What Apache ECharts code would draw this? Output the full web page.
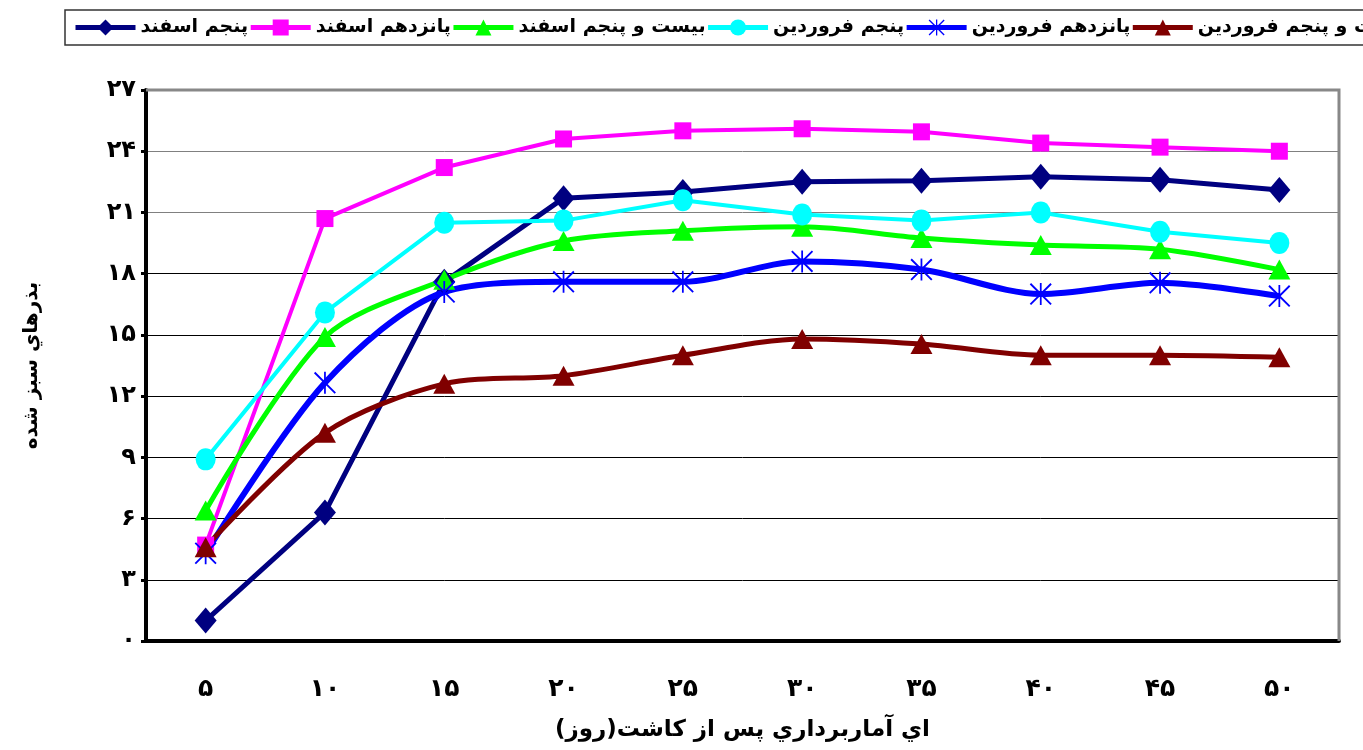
<!DOCTYPE html>
<html>
<head>
<meta charset="utf-8">
<script src="https://cdn.jsdelivr.net/npm/echarts@6/dist/echarts.min.js"></script>
<style>
  html, body { margin: 0; padding: 0; background: #fff; }
  #chart { width: 1363px; height: 750px; }
</style>
</head>
<body>
<div id="chart"></div>
<script>
	var xLabels = ['۵','۱۰','۱۵','۲۰','۲۵','۳۰','۳۵','۴۰','۴۵','۵۰'];
	var yTickLabels = ['۰','۳','۶','۹','۱۲','۱۵','۱۸','۲۱','۲۴','۲۷'];
	var names = ['پنجم اسفند','پانزدهم اسفند','بيست و پنجم اسفند','پنجم فروردين','پانزدهم فروردين','بيست و پنجم فروردين'];

	var esfand5   = [1.0, 6.3, 17.6, 21.7, 22.0, 22.5, 22.55, 22.75, 22.6, 22.1];
	var esfand15  = [4.7, 20.7, 23.2, 24.6, 25.0, 25.1, 24.95, 24.4, 24.2, 24.0];
	var esfand25  = [6.4, 14.9, 17.7, 19.6, 20.1, 20.3, 19.75, 19.4, 19.2, 18.2];
	var farvardin5  = [8.9, 16.1, 20.5, 20.6, 21.6, 20.9, 20.6, 21.0, 20.05, 19.5];
	var farvardin15 = [4.3, 12.65, 17.1, 17.6, 17.6, 18.6, 18.2, 17.0, 17.55, 16.9];
	var farvardin25 = [4.6, 10.2, 12.6, 13.0, 14.0, 14.8, 14.55, 14.0, 14.0, 13.9];

	var star = 'path://M46,0L54,0L54,100L46,100Z M0,6L6,0L100,94L94,100Z M94,0L100,6L6,100L0,94Z';
	var font = "'DejaVu Sans', sans-serif";

	var myChart = echarts.init(document.getElementById('chart'));

	function line(name, data, color, symbol, size, width, smooth) {
		return {
			name: name,
			type: 'line',
			data: data,
			symbol: symbol,
			symbolSize: size,
			smooth: smooth,
			lineStyle: { color: color, width: width },
			itemStyle: { color: color },
			emphasis: { disabled: true }
		};
	}

	option = {
	    animation: false,
	    legend: {
		left: 65,
		top: 10,
		width: 2000,
		padding: [8, 8],
		itemGap: 0,
		itemWidth: 60,
		itemHeight: 20,
		borderColor: '#333',
		borderWidth: 1.5,
		lineStyle: { width: 5 },
		textStyle: { fontFamily: font, fontWeight: 'bold', fontSize: 19, color: '#000' },
		data: names
	    },
	    grid: { left: 146, right: 24, top: 90, bottom: 109 },
	    xAxis: {
		type: 'category',
		data: xLabels,
		boundaryGap: true,
		name: 'اي آماربرداري پس از كاشت(روز)',
		nameLocation: 'middle',
		nameGap: 78,
		nameTextStyle: { fontFamily: font, fontWeight: 'bold', fontSize: 23, color: '#000' },
		axisLine: { lineStyle: { color: '#000', width: 4 } },
		axisTick: { alignWithLabel: false, length: 8, lineStyle: { color: '#000', width: 3 } },
		axisLabel: { margin: 36, fontFamily: font, fontWeight: 'bold', fontSize: 25, color: '#000' },
		splitLine: { show: false }
	    },
	    yAxis: {
		type: 'value',
		min: 0,
		max: 27,
		interval: 3,
		name: 'بذرهاي سبز شده',
		nameLocation: 'middle',
		nameRotate: 90,
		nameGap: 104,
		nameTextStyle: { fontFamily: font, fontWeight: 'bold', fontSize: 20, color: '#000' },
		axisLine: { show: true, lineStyle: { color: '#000', width: 4 } },
		axisTick: { show: true, length: 5, lineStyle: { color: '#000', width: 3 } },
		axisLabel: {
		    margin: 10,
		    fontFamily: font, fontWeight: 'bold', fontSize: 24, color: '#000',
		    formatter: function (v) { return yTickLabels[Math.round(v / 3)]; }
		},
		splitLine: {
		    lineStyle: {
			width: 1,
			color: ['#000','#000','#000','#000','#000','#000','#000','#808080','#808080','#909090']
		    }
		}
	    },
	    series: [
		line(names[0], esfand5, '#000080', 'diamond', [22, 26], 5, false),
		line(names[1], esfand15, '#FF00FF', 'rect', 17, 4, false),
		line(names[2], esfand25, '#00FF00', 'triangle', [22, 20], 5, 0.3),
		line(names[3], farvardin5, '#00FFFF', 'circle', [20, 22], 4, false),
		line(names[4], farvardin15, '#0000FF', star, 22, 6, 0.3),
		line(names[5], farvardin25, '#800000', 'triangle', [22, 20], 5, 0.3)
	    ]
	};

	myChart.setOption(option);
	// right and top border of the plot
	var rect = myChart.getModel().getComponent('grid').coordinateSystem.getRect();
	myChart.setOption({
	    graphic: [{
		type: 'polyline',
		shape: { points: [[rect.x, rect.y], [rect.x + rect.width, rect.y], [rect.x + rect.width, rect.y + rect.height]] },
		style: { stroke: '#888', lineWidth: 3, fill: null },
		z: 1
	    }]
	});
</script>
</body>
</html>
